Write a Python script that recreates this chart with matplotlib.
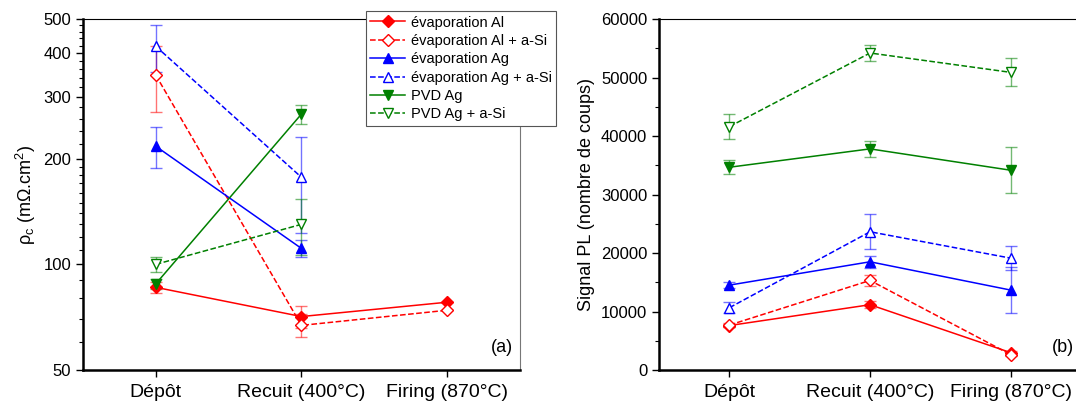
import matplotlib.pyplot as plt
import numpy as np
from matplotlib.ticker import FixedLocator, NullFormatter

plt.rcParams['font.family'] = ['Liberation Sans', 'DejaVu Sans']

steps = ['Dépôt', 'Recuit (400°C)', 'Firing (870°C)']
labels = ['évaporation Al', 'évaporation Al + a-Si', 'évaporation Ag',
          'évaporation Ag + a-Si', 'PVD Ag', 'PVD Ag + a-Si']
colors = ['red', 'red', 'blue', 'blue', 'green', 'green']
markers = ['D', 'D', '^', '^', 'v', 'v']
filled = [True, False, True, False, True, False]

# (a) resistivite de contact, mOhm.cm2 (None = pas de mesure)
rho_al = [86, 71, 78]
rho_al_err = [3, 5, 0]
rho_al_si = [346, 67, 74]
rho_al_si_err = [74, 5, 0]
rho_ag = [217, 111, None]
rho_ag_err = [29, 6, 0]
rho_ag_si = [418, 177, None]
rho_ag_si_err = [64, 54, 0]
rho_pvd = [88, 268, None]
rho_pvd_err = [3, 17, 0]
rho_pvd_si = [100, 130, None]
rho_pvd_si_err = [5, 24, 0]

# (b) signal PL (nombre de coups)
pl_al = [7600, 11160, 2970]
pl_al_err = [300, 600, 300]
pl_al_si = [7680, 15310, 2630]
pl_al_si_err = [300, 900, 300]
pl_ag = [14510, 18500, 13660]
pl_ag_err = [500, 1000, 3900]
pl_ag_si = [10650, 23630, 19120]
pl_ag_si_err = [900, 3000, 2100]
pl_pvd = [34660, 37800, 34150]
pl_pvd_err = [1200, 1400, 3950]
pl_pvd_si = [41600, 54190, 50880]
pl_pvd_si_err = [2100, 1400, 2400]

rho_series = [(rho_al, rho_al_err), (rho_al_si, rho_al_si_err), (rho_ag, rho_ag_err),
              (rho_ag_si, rho_ag_si_err), (rho_pvd, rho_pvd_err), (rho_pvd_si, rho_pvd_si_err)]
pl_series = [(pl_al, pl_al_err), (pl_al_si, pl_al_si_err), (pl_ag, pl_ag_err),
             (pl_ag_si, pl_ag_si_err), (pl_pvd, pl_pvd_err), (pl_pvd_si, pl_pvd_si_err)]

fig = plt.figure(figsize=(10.76, 4.01), dpi=100)
ax1 = fig.add_axes([0.0771, 0.0773, 0.4061, 0.8753])
ax2 = fig.add_axes([0.6125, 0.0773, 0.3922, 0.8753])

x = np.arange(1, 4)


def draw(ax, series):
    handles = []
    for i, (vals, errs) in enumerate(series):
        idx = [k for k in range(3) if vals[k] is not None]
        xv = x[idx]
        yv = [vals[k] for k in idx]
        ev = [errs[k] for k in idx]
        ls = '-' if filled[i] else '--'
        ax.errorbar(xv, yv, yerr=ev, fmt='none', ecolor=colors[i], alpha=0.55,
                    elinewidth=1.0, capsize=4, capthick=1.0, zorder=2)
        h, = ax.plot(xv, yv, ls=ls, color=colors[i], lw=1.1, marker=markers[i],
                     ms=7.5 if markers[i] != 'D' else 6.5,
                     mfc=colors[i] if filled[i] else 'white', mec=colors[i],
                     mew=1.0, zorder=3, label=labels[i])
        handles.append(h)
    return handles


handles = draw(ax1, rho_series)
draw(ax2, pl_series)

for ax in (ax1, ax2):
    ax.set_xlim(0.5, 3.5)
    ax.set_xticks(x)
    ax.set_xticklabels(steps, fontsize=14)
    ax.spines['left'].set_linewidth(1.8)
    ax.spines['bottom'].set_linewidth(1.8)
    ax.spines['top'].set_linewidth(0.8)
    ax.spines['right'].set_linewidth(0.8)
    ax.spines['right'].set_color('#777777')
    ax.tick_params(direction='out', length=5, width=1, labelsize=12)
    ax.tick_params(which='minor', direction='out', length=3, width=0.8)
    ax.tick_params(axis='x', pad=5, labelsize=14)

ax1.set_yscale('log')
ax1.set_ylim(50, 500)
ax1.yaxis.set_major_locator(FixedLocator([50, 100, 200, 300, 400, 500]))
ax1.yaxis.set_major_formatter(plt.FuncFormatter(lambda v, p: '%d' % v))
ax1.yaxis.set_minor_locator(FixedLocator(list(range(60, 100, 10)) + list(range(110, 200, 10))
                                         + list(range(220, 500, 20))))
ax1.yaxis.set_minor_formatter(NullFormatter())
ax1.set_ylabel(r'ρ$_{\mathregular{c}}$ (mΩ.cm$^{\mathregular{2}}$)', fontsize=13)
ax1.text(0.985, 0.04, '(a)', transform=ax1.transAxes, ha='right', va='bottom', fontsize=13)

ax2.set_ylim(0, 60000)
ax2.set_yticks(np.arange(0, 60001, 10000))
ax2.set_yticks(np.arange(5000, 60000, 10000), minor=True)
ax2.set_ylabel('Signal PL (nombre de coups)', fontsize=13)
ax2.text(0.984, 0.04, '(b)', transform=ax2.transAxes, ha='right', va='bottom', fontsize=13)

leg = fig.legend(handles=handles, loc='upper left', bbox_to_anchor=(0.340, 0.972),
                 fontsize=10.5, frameon=True, fancybox=False, framealpha=1,
                 edgecolor='#555555', handlelength=2.4, labelspacing=0.3,
                 borderpad=0.3, handletextpad=0.4, borderaxespad=0)
leg.get_frame().set_linewidth(0.8)

plt.savefig('out.png', dpi=100)
